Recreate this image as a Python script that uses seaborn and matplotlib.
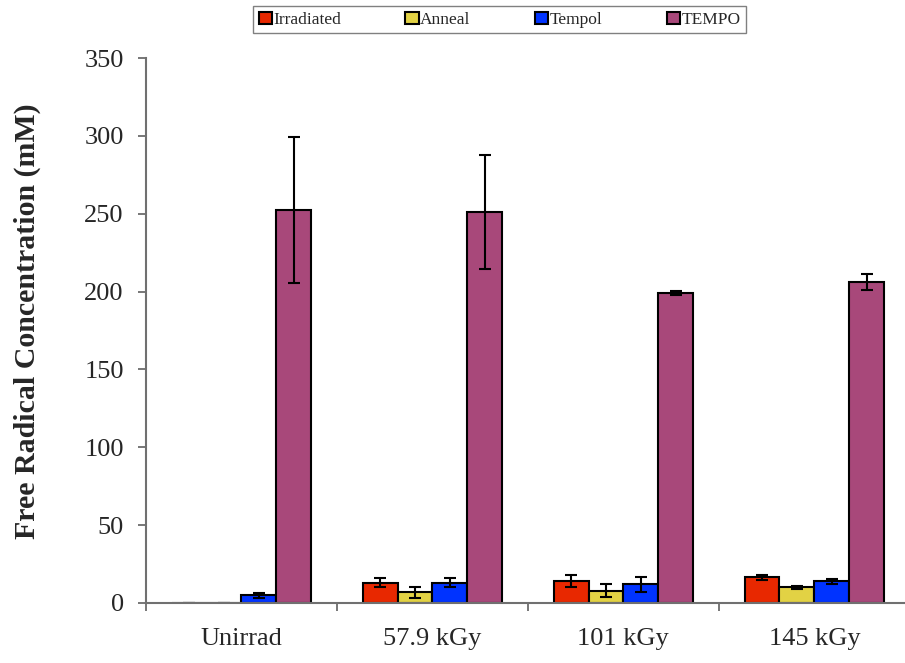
import pandas as pd
import matplotlib
matplotlib.use('Agg')
import matplotlib.pyplot as plt
import seaborn as sns

# values
doses = ['Unirrad', '57.9 kGy', '101 kGy', '145 kGy']
treatments = ['Irradiated', 'Anneal', 'Tempol', 'TEMPO']
irradiated = [0, 13, 14, 16.5]
anneal = [0, 7, 8, 10]
tempol = [5, 13, 12, 14]
tempo = [252.4, 251.3, 199, 206]
irradiated_err = [0, 3, 4, 1.5]
anneal_err = [0, 3.5, 4, 1]
tempol_err = [1.5, 3, 5, 1.5]
tempo_err = [47, 36.7, 1.5, 5]
colors = ['#E82800', '#E2D244', '#0033FF', '#A8487A']

values = [irradiated, anneal, tempol, tempo]
errors = [irradiated_err, anneal_err, tempol_err, tempo_err]
data = pd.DataFrame({
    'Dose': [d for _ in treatments for d in doses],
    'Treatment': [t for t in treatments for _ in doses],
    'Conc': [v for vals in values for v in vals],
})

sns.set_style('white')
plt.rcParams['font.family'] = ['Liberation Serif', 'DejaVu Serif']

fig = plt.figure(figsize=(9.05, 6.63), dpi=100)
ax = fig.add_axes([0.1613, 0.0905, 0.844, 0.822])
sns.barplot(data=data, x='Dose', y='Conc', hue='Treatment', palette=colors,
            errorbar=None, width=0.73, edgecolor='black', linewidth=1.5,
            saturation=1, ax=ax)

# error bars on top of the bars
for cont, errs in zip(ax.containers, errors):
    xs = [p.get_x() + p.get_width() / 2 for p in cont]
    ys = [p.get_height() for p in cont]
    ax.errorbar(xs, ys, yerr=errs, fmt='none', ecolor='black',
                elinewidth=1.5, capsize=4, capthick=1.5)

ax.set_xlim(-0.5, 3.5)
ax.set_ylim(0, 350)
ax.set_yticks(range(0, 351, 50))
ax.set_xticks([-0.5, 0.5, 1.5, 2.5], minor=True)
ax.set_xticks(range(4))
ax.set_xticklabels(doses)
ax.tick_params(axis='x', which='major', length=0, labelsize=19, pad=18)
ax.tick_params(axis='x', which='minor', length=6, width=1.2, color='#606060',
               bottom=True)
ax.tick_params(axis='y', length=6, width=1.2, color='#606060', labelsize=19,
               left=True, pad=10)
ax.set_xlabel('')
ax.set_ylabel('Free Radical Concentration (mM)', fontsize=21.5,
              fontweight='bold')
ax.yaxis.set_label_coords(-0.138, 0.517)
sns.despine(ax=ax)
for s in ['left', 'bottom']:
    ax.spines[s].set_color('#707070')
    ax.spines[s].set_linewidth(1.5)

ax.legend(loc='center', bbox_to_anchor=(0.552, 0.97),
          bbox_transform=fig.transFigure, ncol=4, frameon=True,
          fancybox=False, edgecolor='#606060', fontsize=12.5,
          handlelength=0.75, handleheight=0.75, handletextpad=0.1,
          columnspacing=3.7, borderpad=0.3, borderaxespad=0)

fig.savefig('out.png', dpi=100)
